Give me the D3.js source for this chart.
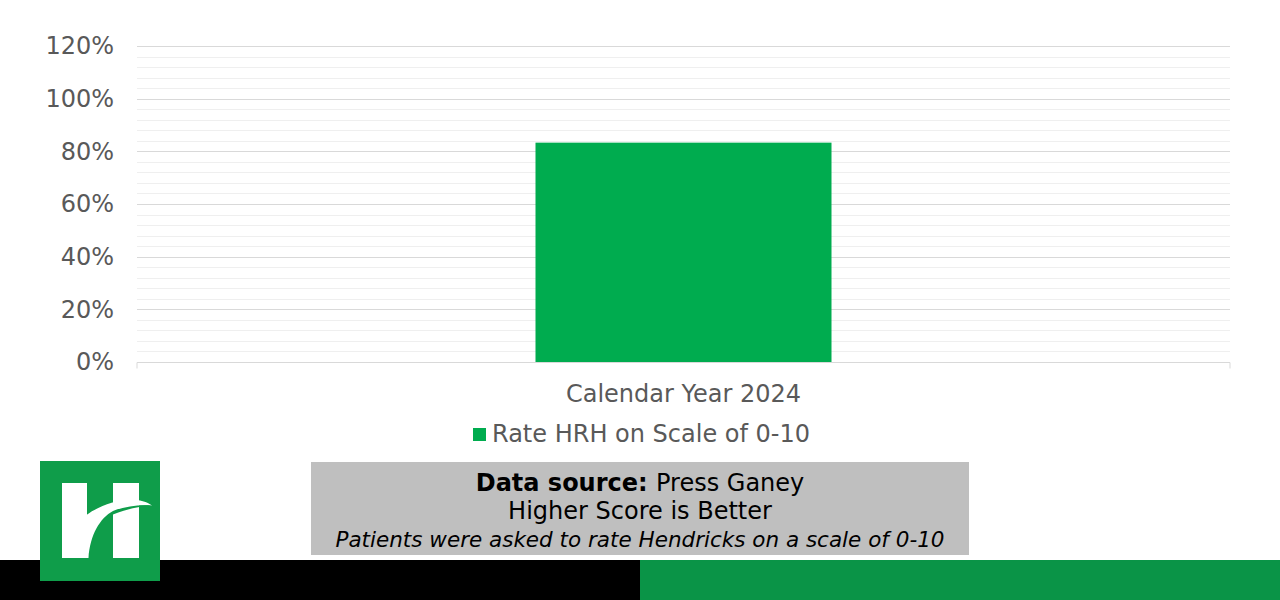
<!DOCTYPE html>
<html><head><meta charset="utf-8">
<script src="https://cdn.jsdelivr.net/npm/d3@7"></script>
<style>html,body{margin:0;padding:0;background:#fff;}svg{display:block;}</style>
</head><body>
<svg id="c" width="1280" height="600"></svg>
<script>
const categories = ["Calendar Year 2024"];
const seriesName = "Rate HRH on Scale of 0-10";
const values = [0.833];
const yTicks = [0, 0.2, 0.4, 0.6, 0.8, 1.0, 1.2];
const minorTicks = d3.range(0, 1.2001, 0.04);
const sourceLines = ["Press Ganey", "Higher Score is Better", "Patients were asked to rate Hendricks on a scale of 0-10"];

const svg = d3.select("#c");
const font = "'DejaVu Sans', Verdana, sans-serif";
const m = {l:137, r:1230, t:46, b:362};
const x = d3.scaleBand().domain(categories).range([m.l, m.r]).paddingInner(0).paddingOuter(0);
const y = d3.scaleLinear().domain([0, 1.2]).range([m.b, m.t]);
const barW = 296;

// minor grid
svg.append("g").selectAll("line").data(minorTicks).join("line")
  .attr("x1", m.l).attr("x2", m.r)
  .attr("y1", d => Math.round(y(d)) + 0.5).attr("y2", d => Math.round(y(d)) + 0.5)
  .attr("stroke", "#efefef").attr("stroke-width", 1);
// major grid
svg.append("g").selectAll("line").data(yTicks.slice(1)).join("line")
  .attr("x1", m.l).attr("x2", m.r)
  .attr("y1", d => Math.round(y(d)) + 0.5).attr("y2", d => Math.round(y(d)) + 0.5)
  .attr("stroke", "#d9d9d9").attr("stroke-width", 1);

// y axis labels
const yAxis = d3.axisLeft(y).tickValues(yTicks).tickFormat(d3.format(".0%")).tickSize(0).tickPadding(23);
const ga = svg.append("g").attr("transform", `translate(${m.l},0)`).call(yAxis);
ga.select(".domain").remove();
ga.selectAll("text").attr("font-family", font).attr("font-size", 24).attr("fill", "#595959");

// bar
svg.append("g").selectAll("rect").data(values).join("rect")
  .attr("x", (d,i) => x(categories[i]) + x.bandwidth()/2 - barW/2)
  .attr("width", barW)
  .attr("y", d => y(d)).attr("height", d => y(0) - y(d))
  .attr("fill", "#00ac4f");

// x axis
const xAxis = d3.axisBottom(x).tickSize(0).tickPadding(22);
const gx = svg.append("g").attr("transform", `translate(0,${Math.round(y(0))+0.5})`).call(xAxis);
gx.select(".domain").attr("stroke", "#d9d9d9").attr("d", `M${m.l},6V0H${m.r}V6`);
gx.selectAll("text").attr("font-family", font).attr("font-size", 24).attr("fill", "#595959");

// legend
const lg = svg.append("g");
lg.append("rect").attr("x", 473).attr("y", 428).attr("width", 13).attr("height", 13).attr("fill", "#00ac4f");
lg.append("text").attr("x", 492).attr("y", 442).attr("font-family", font).attr("font-size", 24)
  .attr("fill", "#595959").text(seriesName);

// data source box
svg.append("rect").attr("x", 311).attr("y", 462).attr("width", 658).attr("height", 93).attr("fill", "#bfbfbf");
const t1 = svg.append("text").attr("x", 640).attr("y", 491).attr("text-anchor", "middle")
  .attr("font-family", font).attr("font-size", 24).attr("fill", "#000");
t1.append("tspan").attr("font-weight", "bold").text("Data source: ");
t1.append("tspan").text(sourceLines[0]);
svg.append("text").attr("x", 640).attr("y", 519).attr("text-anchor", "middle")
  .attr("font-family", font).attr("font-size", 24).attr("fill", "#000").text(sourceLines[1]);
svg.append("text").attr("x", 640).attr("y", 547).attr("text-anchor", "middle")
  .attr("font-family", font).attr("font-size", 21.5).attr("font-style", "italic").attr("fill", "#000").text(sourceLines[2]);

// bottom bands
svg.append("rect").attr("x", 0).attr("y", 560).attr("width", 640).attr("height", 40).attr("fill", "#000");
svg.append("rect").attr("x", 640).attr("y", 560).attr("width", 640).attr("height", 40).attr("fill", "#0a9447");

// logo
const lgo = svg.append("g");
lgo.append("rect").attr("x", 40).attr("y", 461).attr("width", 120).attr("height", 120).attr("fill", "#0f9d4a");
lgo.append("rect").attr("x", 62).attr("y", 483).attr("width", 25).attr("height", 75).attr("fill", "#fff");
lgo.append("rect").attr("x", 113).attr("y", 483).attr("width", 26).attr("height", 75).attr("fill", "#fff");
lgo.append("path").attr("fill", "#fff")
  .attr("d", "M86.5,515 C97,507 115,500 130,499.5 C140,499.5 147,502 152,505.5 C140,504.5 125,506 113,511 C100,518 90,535 88.5,558 L86.5,558 Z");
lgo.append("path").attr("fill", "#0f9d4a")
  .attr("d", "M113,511 C125,506 140,504.5 152,505.5 C140,506.5 126,509 113,514.5 Z");
</script>
</body></html>
